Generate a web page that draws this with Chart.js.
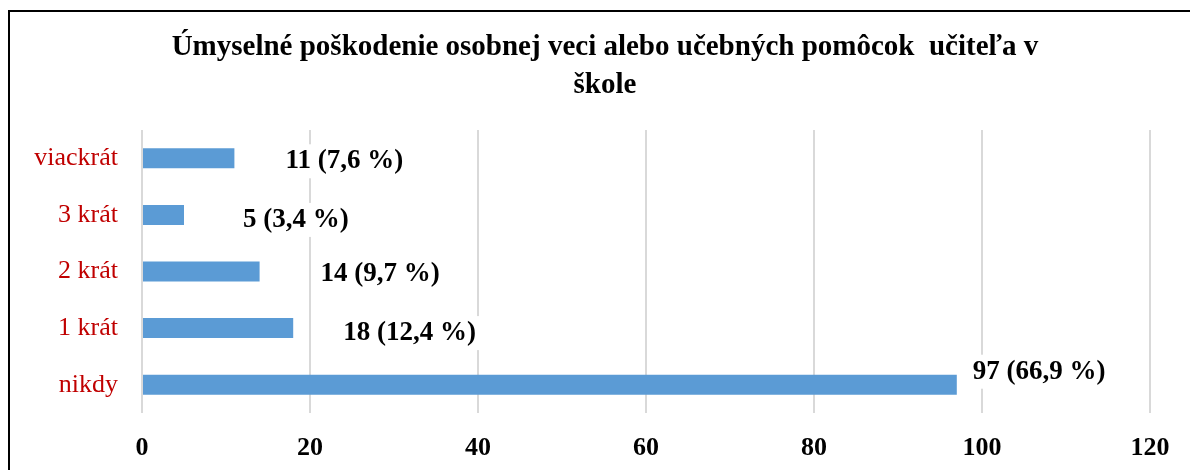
<!DOCTYPE html>
<html>
<head>
<meta charset="utf-8">
<script src="https://cdn.jsdelivr.net/npm/chart.js@4"></script>
<style>
  html, body { margin: 0; padding: 0; background: #fff; overflow: hidden; }
  #frame { position: absolute; left: 8px; top: 10px; border-left: 2px solid #000; border-top: 2px solid #000; }
  canvas { display: block; }
</style>
</head>
<body>
<div id="frame"><canvas id="chart" width="1190" height="458"></canvas></div>
<script>
const titleLines = ['Úmyselné poškodenie osobnej veci alebo učebných pomôcok  učiteľa v', 'škole']
const categories = ['viackrát', '3 krát', '2 krát', '1 krát', 'nikdy']
const counts = [11, 5, 14, 18, 97]
const percents = ['7,6', '3,4', '9,7', '12,4', '66,9']
const xTicks = [0, 20, 40, 60, 80, 100, 120]

const serif = "'Liberation Serif', 'Times New Roman', serif"

// label nudges (dx from bar end, dy from bar centre), as in the original
const labelNudge = [[51, 3], [59, 5], [61, 3], [50, 5], [16, -13]]

const valueLabels = {
  id: 'valueLabels',
  afterDatasetsDraw(chart) {
    const ctx = chart.ctx
    const meta = chart.getDatasetMeta(0)
    ctx.save()
    ctx.font = 'bold 27px ' + serif
    ctx.textBaseline = 'middle'
    ctx.textAlign = 'left'
    meta.data.forEach((bar, i) => {
      const txt = counts[i] + ' (' + percents[i] + ' %)'
      const x = bar.x + labelNudge[i][0]
      const y = bar.y + labelNudge[i][1]
      const w = ctx.measureText(txt).width
      ctx.fillStyle = '#fff'
      ctx.fillRect(x - 4, y - 17, w + 8, 34)
      ctx.fillStyle = '#000'
      ctx.fillText(txt, x, y)
    })
    ctx.restore()
  }
}

// title centred on the whole frame, not on the padded layout box
const frameTitle = {
  id: 'frameTitle',
  afterDraw(chart) {
    const ctx = chart.ctx
    ctx.save()
    ctx.font = 'bold 29px ' + serif
    ctx.fillStyle = '#000'
    ctx.textAlign = 'center'
    ctx.textBaseline = 'middle'
    titleLines.forEach((t, i) => ctx.fillText(t, chart.width / 2, 36 + i * 38))
    ctx.restore()
  }
}

const ctx = document.getElementById('chart').getContext('2d')
new Chart(ctx, {
  type: 'bar',
  data: {
    labels: categories,
    datasets: [{ data: counts, backgroundColor: '#5b9bd5', categoryPercentage: 1, barPercentage: 0.354 }]
  },
  options: {
    indexAxis: 'y',
    responsive: false,
    animation: false,
    devicePixelRatio: 1,
    layout: { padding: { left: 0, right: 50, top: 118, bottom: 0 } },
    plugins: {
      legend: { display: false },
      tooltip: { enabled: false },
      title: { display: false }
    },
    scales: {
      x: {
        min: 0, max: 120,
        afterBuildTicks: (axis) => { axis.ticks = xTicks.map(v => ({ value: v })) },
        afterFit: (axis) => { axis.height = 57 },
        grid: { color: '#d9d9d9', lineWidth: 2, drawTicks: false },
        border: { display: false },
        ticks: { color: '#000', padding: 20, font: { family: serif, size: 26, weight: 'bold' } }
      },
      y: {
        afterFit: (axis) => { axis.width = 132 },
        grid: { display: false, drawTicks: false },
        border: { display: false },
        ticks: { color: '#c00000', padding: 24, font: { family: serif, size: 26 } }
      }
    }
  },
  plugins: [valueLabels, frameTitle]
})
</script>
</body>
</html>
